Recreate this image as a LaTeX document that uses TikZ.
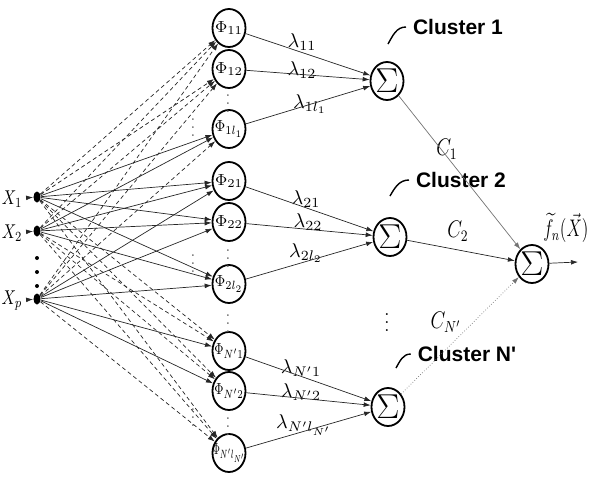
\documentclass[tikz,border=0pt]{standalone}
\usepackage{amsmath}
\usepackage{fontspec}
\usepackage{tikz}
\usetikzlibrary{shapes.geometric,arrows.meta}
\newfontfamily\clusterfont{Liberation Sans}
\tikzset{d/.style={line width=0.35pt, black!85}}

\begin{document}
\begin{tikzpicture}[x=0.5pt,y=-0.5pt,
neuron/.style={ellipse, draw=black, line width=0.9pt, minimum width=16.5pt, minimum height=19pt, inner xsep=-7pt, inner ysep=-1pt, font=\footnotesize},
adder/.style={neuron, font=\LARGE},
inp/.style={ellipse, fill=black, minimum width=3.5pt, minimum height=5.5pt, inner sep=0pt},
arr/.style={d, -{Latex[length=3.5pt,width=2.4pt]}},
cl/.style={font=\clusterfont\bfseries\fontsize{10.5}{12}\selectfont},
]
\useasboundingbox (0,0) rectangle (591,477);

% inputs
\node[inp] (x1) at (37,197) {};
\node[inp] (x2) at (37,231) {};
\node[inp] (xp) at (37,299) {};
\node (lx1) at (12,199) {\scalebox{0.8}[1]{$X_1$}};
\node (lx2) at (12,233) {\scalebox{0.8}[1]{$X_2$}};
\node (lxp) at (12,301) {\scalebox{0.8}[1]{$X_p$}};
\foreach \y in {258,272,286} \fill (37,\y) circle (1pt);

% hidden units
\node[neuron] (p11) at (229,28) {$\Phi_{11}$};
\node[neuron] (p12) at (229,69) {$\Phi_{12}$};
\node[neuron] (p1l) at (229,129) {\scalebox{0.85}[1]{$\Phi_{1l_1}$}};
\node[neuron] (p21) at (229,181) {$\Phi_{21}$};
\node[neuron] (p22) at (229,222) {$\Phi_{22}$};
\node[neuron] (p2l) at (229,284) {\scalebox{0.85}[1]{$\Phi_{2l_2}$}};
\node[neuron] (pN1) at (229,351) {\scalebox{0.75}[1]{$\Phi_{N'1}$}};
\node[neuron] (pN2) at (229,391) {\scalebox{0.75}[1]{$\Phi_{N'2}$}};
\node[neuron] (pNl) at (229,453) {\scalebox{0.6}[1]{$\Phi_{N'l_{N'}}$}};

% sums
\node[adder] (s1) at (387,81) {$\Sigma$};
\node[adder] (s2) at (390,237) {$\Sigma$};
\node[adder] (sN) at (388,407) {$\Sigma$};
\node[adder] (out) at (532,264) {$\Sigma$};
\coordinate (oend) at (578,262);

% weights
\node (l11) at (302,42) {$\lambda_{11}$};
\node (l12) at (302,70) {$\lambda_{12}$};
\node (l1l) at (310,104) {$\lambda_{1l_1}$};
\node (l21) at (306,199) {$\lambda_{21}$};
\node (l22) at (308,222) {$\lambda_{22}$};
\node (l2l) at (306,253) {$\lambda_{2l_2}$};
\node (lN1) at (301,368) {$\lambda_{N'1}$};
\node (lN2) at (301,392) {$\lambda_{N'2}$};
\node (lNl) at (304,425) {$\lambda_{N'l_{N'}}$};
\node[font=\large] (c1) at (447,149) {\scalebox{0.8}[1]{$C_1$}};
\node[font=\large] (c2) at (458,231) {\scalebox{0.8}[1]{$C_2$}};
\node[font=\large] (cN) at (446,322) {\scalebox{0.8}[1]{$C_{N'}$}};
\node[font=\large] (fn) at (566,228) {\scalebox{0.72}[1]{$\widetilde{f}_n(\vec{X})$}};

% clusters
\node[cl] (cl1) at (458,27) {Cluster 1};
\node[cl] (cl2) at (461,180) {Cluster 2};
\node[cl] (clN) at (467,354) {Cluster N'};
\coordinate (a1) at (388,44);
\coordinate (a2) at (390,196);
\coordinate (aN) at (396,368);
\draw[line width=0.7pt] (a1) to[out=60,in=180] (cl1.west);
\draw[line width=0.7pt] (a2) to[out=60,in=180] (cl2.west);
\draw[line width=0.7pt] (aN) to[out=60,in=180] (clN.west);

% dots
\foreach \y in {98,253,318,421} \node[black!60,font=\footnotesize] at (228,\y) {$\vdots$};
\foreach \y in {122,258,412} \node[black!60,font=\footnotesize] at (193,\y) {$\vdots$};
\node[font=\small] at (387,317) {$\vdots$};

% connections
\draw[arr] (lx1) -- (x1);
\draw[arr] (lx2) -- (x2);
\draw[arr] (lxp) -- (xp);
\foreach \x/\yx in {x1/197,x2/231,xp/299}
  \foreach \p/\yp in {p11/28,p12/69,p1l/129,p21/181,p22/222,p2l/284,pN1/351,pN2/391,pNl/453}
  {
    \pgfmathsetmacro\dy{abs(\yx-\yp)}
    \ifdim\dy pt<120pt
      \draw[arr] (\x) -- (\p);
    \else
      \draw[arr,dash pattern=on 2pt off 1.5pt] (\x) -- (\p);
    \fi
  }
\foreach \p in {p11,p12,p1l} \draw[arr] (\p) -- (s1);
\foreach \p in {p21,p22,p2l} \draw[arr] (\p) -- (s2);
\foreach \p in {pN1,pN2,pNl} \draw[arr] (\p) -- (sN);
\draw[arr,black!55] (s1) -- (out);
\draw[arr] (s2) -- (out);
\draw[arr,black!55,densely dotted] (sN) -- (out);
\draw[arr] (out) -- (oend);
\end{tikzpicture}
\end{document}
